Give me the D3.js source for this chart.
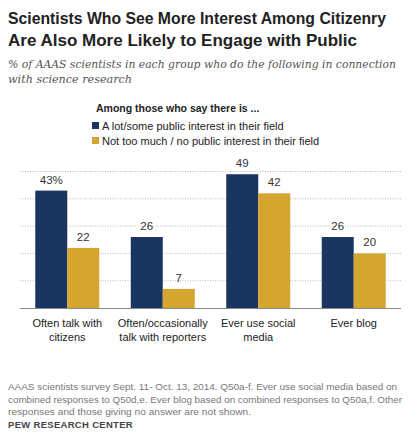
<!DOCTYPE html>
<html><head><meta charset="utf-8">
<script src="https://cdn.jsdelivr.net/npm/d3@7"></script>
<style>body{margin:0;background:#fff;font-family:"Liberation Sans",Arial,sans-serif}</style>
</head><body><div id="chart"></div>
<script>
var categories = ["Often talk with citizens", "Often/occasionally talk with reporters", "Ever use social media", "Ever blog"];
var catLines = [["Often talk with", "citizens"], ["Often/occasionally", "talk with reporters"], ["Ever use social", "media"], ["Ever blog"]];
var seriesNames = ["A lot/some public interest in their field", "Not too much / no public interest in their field"];
var highInterest = [43, 26, 49, 26];
var lowInterest = [22, 7, 42, 20];
var gridTicks = [10, 20, 30, 40, 50];
var colors = ["#1a3660", "#d4a52f"];

var svg = d3.select("#chart").append("svg").attr("width", 418).attr("height", 437);

// fit a text to a width the same way the original's condensed font does
function fit(sel, w) { return sel.attr("textLength", w).attr("lengthAdjust", "spacingAndGlyphs"); }

fit(svg.append("text").attr("x", 8).attr("y", 24).attr("font-size", 17).attr("font-weight", "bold")
  .attr("fill", "#222").text("Scientists Who See More Interest Among Citizenry"), 378);
fit(svg.append("text").attr("x", 8).attr("y", 46).attr("font-size", 17).attr("font-weight", "bold")
  .attr("fill", "#222").text("Are Also More Likely to Engage with Public"), 349);
[["% of AAAS scientists in each group who do the following in connection", 388], ["with science research", 124]].forEach(function (t, i) {
  fit(svg.append("text").attr("x", 8).attr("y", 68 + i * 15).attr("font-size", 11.5).attr("font-style", "italic")
    .attr("font-family", "Georgia, 'DejaVu Serif', serif").attr("fill", "#555").text(t[0]), t[1]);
});

// legend
svg.append("text").attr("x", 96).attr("y", 112).attr("font-size", 10.5).attr("font-weight", "bold")
  .attr("fill", "#222").text("Among those who say there is ...");
seriesNames.forEach(function (s, i) {
  svg.append("rect").attr("x", 92).attr("y", 122 + i * 15).attr("width", 7).attr("height", 7).attr("fill", colors[i]);
  svg.append("text").attr("x", 102).attr("y", 129.5 + i * 15).attr("font-size", 11).attr("fill", "#222").text(s);
});

var x = d3.scaleBand().domain(categories).range([20, 401]).paddingInner(0.33).paddingOuter(0.16);
var xs = d3.scaleBand().domain([0, 1]).range([0, x.bandwidth()]);
var y = d3.scaleLinear().domain([0, 50]).range([308, 171.5]);

svg.append("g").selectAll("line").data(gridTicks).join("line")
  .attr("x1", 20).attr("x2", 401).attr("y1", function (d) { return y(d); }).attr("y2", function (d) { return y(d); })
  .attr("stroke", "#bbb").attr("stroke-dasharray", "1,1.5");

var data = categories.map(function (c, i) { return { cat: c, vals: [highInterest[i], lowInterest[i]] }; });
var g = svg.append("g").selectAll("g").data(data).join("g")
  .attr("transform", function (d) { return "translate(" + x(d.cat) + ",0)"; });
g.selectAll("rect").data(function (d) { return d.vals; }).join("rect")
  .attr("x", function (d, i) { return xs(i); }).attr("width", xs.bandwidth())
  .attr("y", function (d) { return y(d); }).attr("height", function (d) { return y(0) - y(d); })
  .attr("fill", function (d, i) { return colors[i]; });
g.selectAll("text.v").data(function (d, ci) { return d.vals.map(function (v, i) { return { v: v, i: i, ci: ci }; }); })
  .join("text").attr("class", "v")
  .attr("x", function (d) { return xs(d.i) + xs.bandwidth() / 2; }).attr("y", function (d) { return y(d.v) - 7; })
  .attr("text-anchor", "middle").attr("font-size", 11.5).attr("fill", "#333")
  .text(function (d) { return d.v + (d.ci === 0 && d.i === 0 ? "%" : ""); });

svg.append("line").attr("x1", 20).attr("x2", 401).attr("y1", 308.5).attr("y2", 308.5).attr("stroke", "#888");

catLines.forEach(function (lines, i) {
  lines.forEach(function (t, j) {
    svg.append("text").attr("x", x(categories[i]) + x.bandwidth() / 2).attr("y", 327 + j * 14)
      .attr("text-anchor", "middle").attr("font-size", 11).attr("fill", "#222").text(t);
  });
});

[["AAAS scientists survey Sept. 11- Oct. 13, 2014. Q50a-f. Ever use social media based on", 389],
 ["combined responses to Q50d,e. Ever blog based on combined responses to Q50a,f. Other", 394],
 ["responses and those giving no answer are not shown.", 243]].forEach(function (t, i) {
  fit(svg.append("text").attr("x", 8).attr("y", 390 + i * 12.5).attr("font-size", 9.3).attr("fill", "#777").text(t[0]), t[1]);
});
svg.append("text").attr("x", 8).attr("y", 428).attr("font-size", 9.5).attr("font-weight", "bold")
  .attr("fill", "#444").attr("letter-spacing", 0.3).text("PEW RESEARCH CENTER");
</script></body></html>
